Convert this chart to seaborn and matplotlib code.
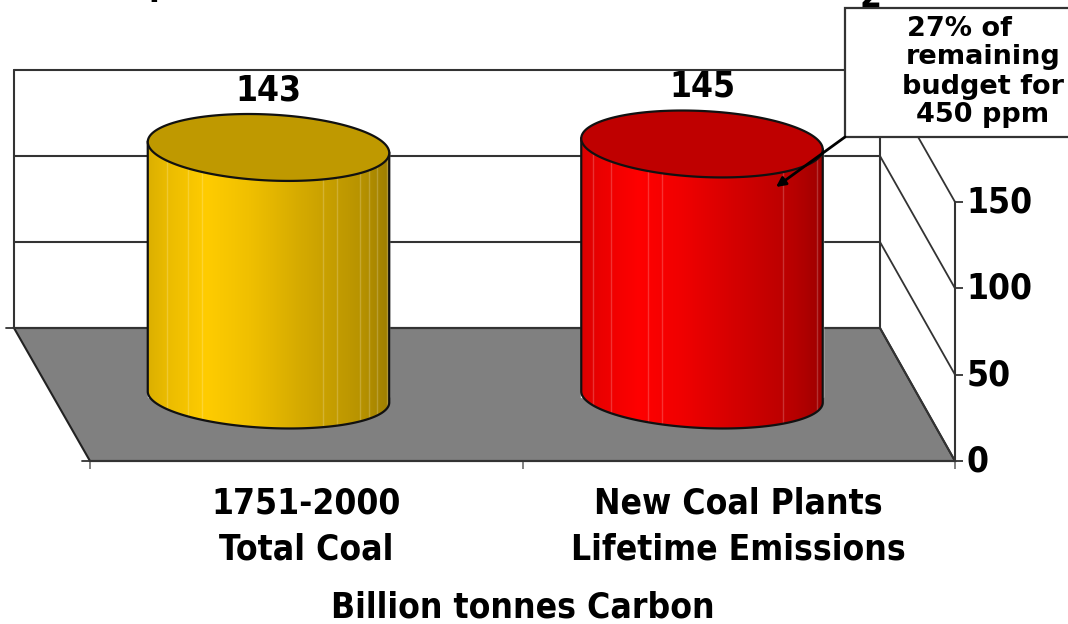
import numpy as np
import matplotlib
matplotlib.use("Agg")
import matplotlib.pyplot as plt
import seaborn as sns
from matplotlib.colors import to_rgb
from matplotlib.patches import Polygon, Rectangle
from matplotlib.transforms import Affine2D, ScaledTranslation
from matplotlib import font_manager as fm

# ---- data ----
categories = ["1751-2000\nTotal Coal", "New Coal Plants\nLifetime Emissions"]
values = [143, 145]
value_ticks = [0, 50, 100, 150]
axis_label = "Billion tonnes Carbon"
callout = "27% of     \nremaining\nbudget for\n450 ppm"
base_colors = ["#FFCC00", "#FF0000"]
top_colors = ["#BF9900", "#BF0000"]

W, H, DPI = 1068, 624, 100
sns.set_theme(style="white")
plt.rcParams["font.family"] = ["DejaVu Sans"]
LINE = "#333333"
LABEL = dict(family="DejaVu Sans", stretch="condensed", weight="bold", size=25.4)

fig = plt.figure(figsize=(W / DPI, H / DPI), dpi=DPI)
pix = Affine2D().scale(1, -1).translate(0, H)  # reference pixel coordinates

# main axes: the cylinders' mid-depth plane
ax = fig.add_axes([0, 0, 1, 1])
ax.patch.set_alpha(0)
sx, cx0 = 433.5, 268.5
sy, base = 1.745, 397.0
bar_w = 241.5 / sx
sns.barplot(x=categories, y=values, hue=categories, palette=base_colors, saturation=1,
            legend=False, width=bar_w, ax=ax, zorder=3)
ax.set_xlim((0 - cx0) / sx, (W - cx0) / sx)
ax.set_ylim((base - H) / sy, base / sy)
ax.set_axis_off()

# back wall, floor and side wall
back_l, back_r, back_0, back_s = 14, 880, 328, 1.72
front_l, front_r, front_0, front_s = 90, 955, 461, 1.727
ax.add_patch(Polygon([(back_l, back_0), (back_r, back_0), (front_r, front_0), (front_l, front_0)],
                     closed=True, fc="#808080", ec="#222222", lw=1.5, transform=pix, zorder=1))
for v in value_ticks:
    yb = back_0 - v * back_s
    yf = front_0 - v * front_s
    ax.plot([back_l, back_r], [yb, yb], color=LINE, lw=1.5, transform=pix, zorder=1.5)
    ax.plot([back_r, front_r], [yb, yf], color=LINE, lw=1.3, transform=pix, zorder=1.5)
top_b = back_0 - value_ticks[-1] * back_s
ax.plot([back_l, back_l], [back_0, top_b], color=LINE, lw=1.5, transform=pix, zorder=1.5)
ax.plot([back_r, back_r], [back_0, top_b], color=LINE, lw=1.5, transform=pix, zorder=1.5)
ax.plot([back_l - 8, back_l], [back_0, back_0], color=LINE, lw=1.3, transform=pix, zorder=1.5)
ax.plot([front_l - 8, front_l], [front_0, front_0], color=LINE, lw=1.3, transform=pix, zorder=1.5)

# cylinders built on the seaborn bars
stops_t = [0.0, 0.08, 0.24, 0.42, 0.62, 0.88, 1.0]
stops_f = [0.86, 0.92, 1.0, 0.94, 0.84, 0.72, 0.62]
stripes = [[0.08, 0.165, 0.225, 0.725, 0.785, 0.88, 0.915, 0.95, 0.99],
           [0.05, 0.125, 0.275, 0.335, 0.835, 0.975]]
b_px, b_low_px, tilt_px = 33.0, 31.0, 5.5
t = np.linspace(0, 2 * np.pi, 181)
for bar, h, col, topc, st in zip(ax.patches, values, base_colors, top_colors, stripes):
    x0, w = bar.get_x(), bar.get_width()
    cx = x0 + w / 2
    b = b_px / sy
    bl = b_low_px / sy
    tilt = tilt_px / sy
    ex = cx + w / 2 * np.cos(t)
    lo = (t >= 0) & (t <= np.pi)
    bx = ex[lo]
    by = -bl * np.sin(t[lo]) - tilt * np.cos(t[lo])
    body = np.vstack([[x0 + w, h - tilt], *np.column_stack([bx, by]), [x0, h + tilt]])
    ax.add_patch(Polygon(body, closed=True, fc="none", ec="#111111", lw=1.6,
                         transform=ax.transData, zorder=3.6))
    xs = np.linspace(0, 1, 400)
    fac = np.interp(xs, stops_t, stops_f)
    grad = np.outer(fac, to_rgb(col))[None, :, :]
    im = ax.imshow(grad, extent=[x0, x0 + w, -bl - tilt, h + tilt], aspect="auto",
                   origin="lower", zorder=3.2, interpolation="bilinear")
    im.set_clip_path(Polygon(body, closed=True, transform=ax.transData))
    for s in st:
        ln, = ax.plot([x0 + s * w] * 2, [-bl, h], color="white", alpha=0.2, lw=1.0, zorder=3.3)
        ln.set_clip_path(Polygon(body, closed=True, transform=ax.transData))
    ey = h - b * np.sin(t) - tilt * np.cos(t)
    ax.add_patch(Polygon(np.column_stack([ex, ey]), closed=True, fc=topc, ec="#111111",
                         lw=1.6, zorder=4))
    ax.text(cx, h + 57 / sy, f"{h}", ha="center", va="center", color="black", zorder=5,
            **LABEL)
ax.set_xlim((0 - cx0) / sx, (W - cx0) / sx)
ax.set_ylim((base - H) / sy, base / sy)

# front axes: value scale on the right and category labels
fa = fig.add_axes([front_l / W, (H - front_0) / H, (front_r - front_l) / W, 150 * front_s / H])
fa.patch.set_alpha(0)
fa.set_xlim(-0.5, 1.5)
fa.set_ylim(0, 150)
sns.despine(ax=fa, left=True, right=False, top=True, bottom=False)
for s in ("right", "bottom"):
    fa.spines[s].set_color(LINE)
    fa.spines[s].set_linewidth(1.5)
fa.yaxis.tick_right()
fa.set_yticks(value_ticks)
fa.set_yticklabels([str(v) for v in value_ticks], color="black")
fa.tick_params(axis="y", length=5.5, width=1.3, color=LINE, pad=3, right=True, left=False)
fa.set_xticks([0, 1])
fa.set_xticklabels(categories, color="black", linespacing=1.45)
fa.set_xticks([-0.5, 0.5, 1.5], minor=True)
fa.tick_params(axis="x", which="major", length=0, pad=18, bottom=False)
fa.tick_params(axis="x", which="minor", length=5.5, width=1.3, color="#777777", bottom=True)
for lab in fa.get_xticklabels() + fa.get_yticklabels():
    lab.set_fontproperties(fm.FontProperties(**LABEL))
lift = ScaledTranslation(0, 3 / DPI, fig.dpi_scale_trans)
for lab in fa.get_yticklabels():
    lab.set_transform(lab.get_transform() + lift)
fa.grid(False)
ax.text(523, 607, axis_label, transform=pix, ha="center", va="center", color="black", **LABEL)

# callout
ca = fig.add_axes([0, 0, 1, 1], zorder=10)
ca.set_axis_off()
ca.patch.set_alpha(0)
ca.set_xlim(0, 1)
ca.set_ylim(0, 1)
ca.add_patch(Rectangle((845, 8), 240, 129, fc="white", ec=LINE, lw=1.6, transform=pix))
ca.text(983, 72, callout, transform=pix, ha="center", va="center", fontsize=19.5,
        fontweight="bold", family="DejaVu Sans", color="black", linespacing=1.15)
ca.annotate("", xy=(776, 187), xytext=(845, 137), xycoords=pix, textcoords=pix,
            arrowprops=dict(arrowstyle="-|>", color="black", lw=2.0, mutation_scale=14,
                            shrinkA=0, shrinkB=0))
# tail ends of the cropped slide title
ca.text(160, -5, "p", transform=pix, ha="center", va="baseline", color="black", **LABEL)
ca.text(871, 7, "2", transform=pix, ha="center", va="baseline", color="black", **LABEL)

fig.savefig("out.png", dpi=DPI)
